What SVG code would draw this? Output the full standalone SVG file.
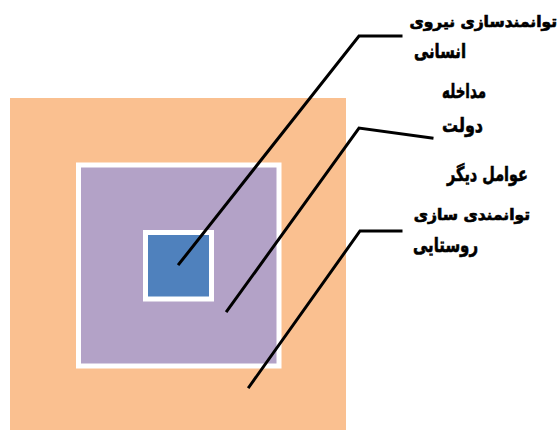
<svg xmlns="http://www.w3.org/2000/svg" width="560" height="430" viewBox="0 0 560 430">
  <style>
    .lbl { font-family: "DejaVu Sans", "Noto Sans", sans-serif; font-weight: bold; font-size: 20px; fill: #000; stroke: #000; stroke-width: 0.6; text-anchor: end; }
    .lbl.small { font-size: 15.5px; stroke-width: 0.7; }
    .box { stroke: #fff; stroke-width: 5; }
    .lead { fill: none; stroke: #000; stroke-width: 3; stroke-linecap: square; }
  </style>
  <rect width="560" height="430" fill="#fff"/>

  <!-- nested squares -->
  <g id="outer">
    <rect x="10" y="98" width="336" height="332" fill="#FAC090"/>
  </g>
  <g id="middle">
    <rect class="box" x="78.5" y="165" width="200.5" height="201" fill="#B3A2C7"/>
  </g>
  <g id="inner">
    <rect class="box" x="145.5" y="232.5" width="66" height="66.5" fill="#4F81BD"/>
  </g>

  <!-- leader lines -->
  <g id="connectors">
    <polyline class="lead" points="179,264 359,36 401,36"/>
    <polyline class="lead" points="227,311 359,128 432,138"/>
    <polyline class="lead" points="249,387 360,231 401,231"/>
  </g>

  <!-- labels (right-aligned) -->
  <g id="label-human">
    <text class="lbl small" x="557" y="27">توانمندسازی نیروی</text>
    <text class="lbl" x="466" y="58" textLength="52" lengthAdjust="spacingAndGlyphs">انسانی</text>
  </g>
  <g id="label-government">
    <text class="lbl" x="486" y="98" textLength="44" lengthAdjust="spacingAndGlyphs">مداخله</text>
    <text class="lbl" x="483" y="132" textLength="41" lengthAdjust="spacingAndGlyphs">دولت</text>
  </g>
  <g id="label-other">
    <text class="lbl" x="528" y="181" textLength="81" lengthAdjust="spacingAndGlyphs">عوامل دیگر</text>
  </g>
  <g id="label-rural">
    <text class="lbl small" x="530" y="220">توانمندی سازی</text>
    <text class="lbl" x="478" y="252" textLength="65" lengthAdjust="spacingAndGlyphs">روستایی</text>
  </g>
</svg>
